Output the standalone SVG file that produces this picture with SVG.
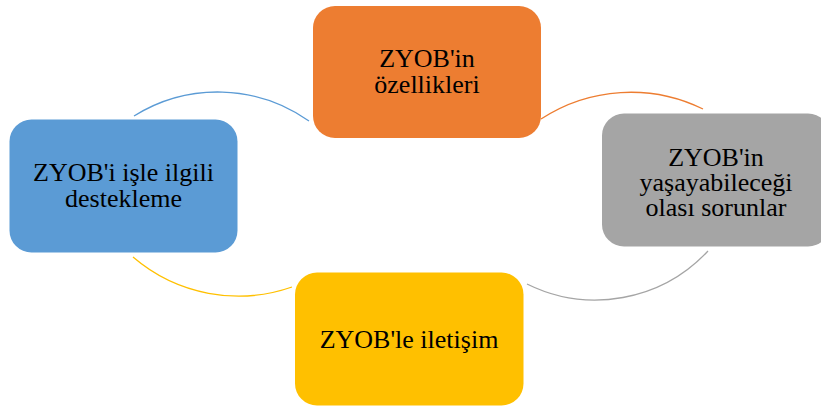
<svg xmlns="http://www.w3.org/2000/svg" width="821" height="406" viewBox="0 0 821 406">
  <style>
    .box { stroke: none; }
    .lbl { font-family: "Liberation Serif", "Times New Roman", serif; font-size: 26px; fill: #000; text-anchor: middle; }
    .arc { fill: none; stroke-width: 1.3; }
  </style>
  <rect width="821" height="406" fill="#ffffff"/>

  <!-- connecting arcs between the cycle steps -->
  <g id="connectors">
    <path class="arc" stroke="#5B9BD5" d="M134,116 A158,158 0 0 1 309,121"/>
    <path class="arc" stroke="#ED7D31" d="M541,119 A164,164 0 0 1 703,109"/>
    <path class="arc" stroke="#FFC000" d="M133,257 A162,162 0 0 0 292,287"/>
    <path class="arc" stroke="#A5A5A5" d="M527,284 A154,154 0 0 0 708,251"/>
  </g>

  <g id="node-ozellikler">
    <rect class="box" x="313" y="6" width="228" height="132" rx="22" fill="#ED7D31"/>
    <text class="lbl" x="427" y="67">ZYOB'in</text>
    <text class="lbl" x="427" y="93">özellikleri</text>
  </g>

  <g id="node-sorunlar">
    <rect class="box" x="602" y="113.5" width="228" height="133" rx="22" fill="#A5A5A5"/>
    <text class="lbl" x="716" y="166">ZYOB'in</text>
    <text class="lbl" x="716" y="191">yaşayabileceği</text>
    <text class="lbl" x="716" y="216">olası sorunlar</text>
  </g>

  <g id="node-iletisim">
    <rect class="box" x="295" y="272.5" width="228.5" height="133" rx="22" fill="#FFC000"/>
    <text class="lbl" x="409" y="347.5">ZYOB'le iletişim</text>
  </g>

  <g id="node-destekleme">
    <rect class="box" x="9.5" y="119.5" width="228" height="133" rx="22" fill="#5B9BD5"/>
    <text class="lbl" x="123.5" y="181">ZYOB'i işle ilgili</text>
    <text class="lbl" x="123.5" y="206.5">destekleme</text>
  </g>
</svg>
